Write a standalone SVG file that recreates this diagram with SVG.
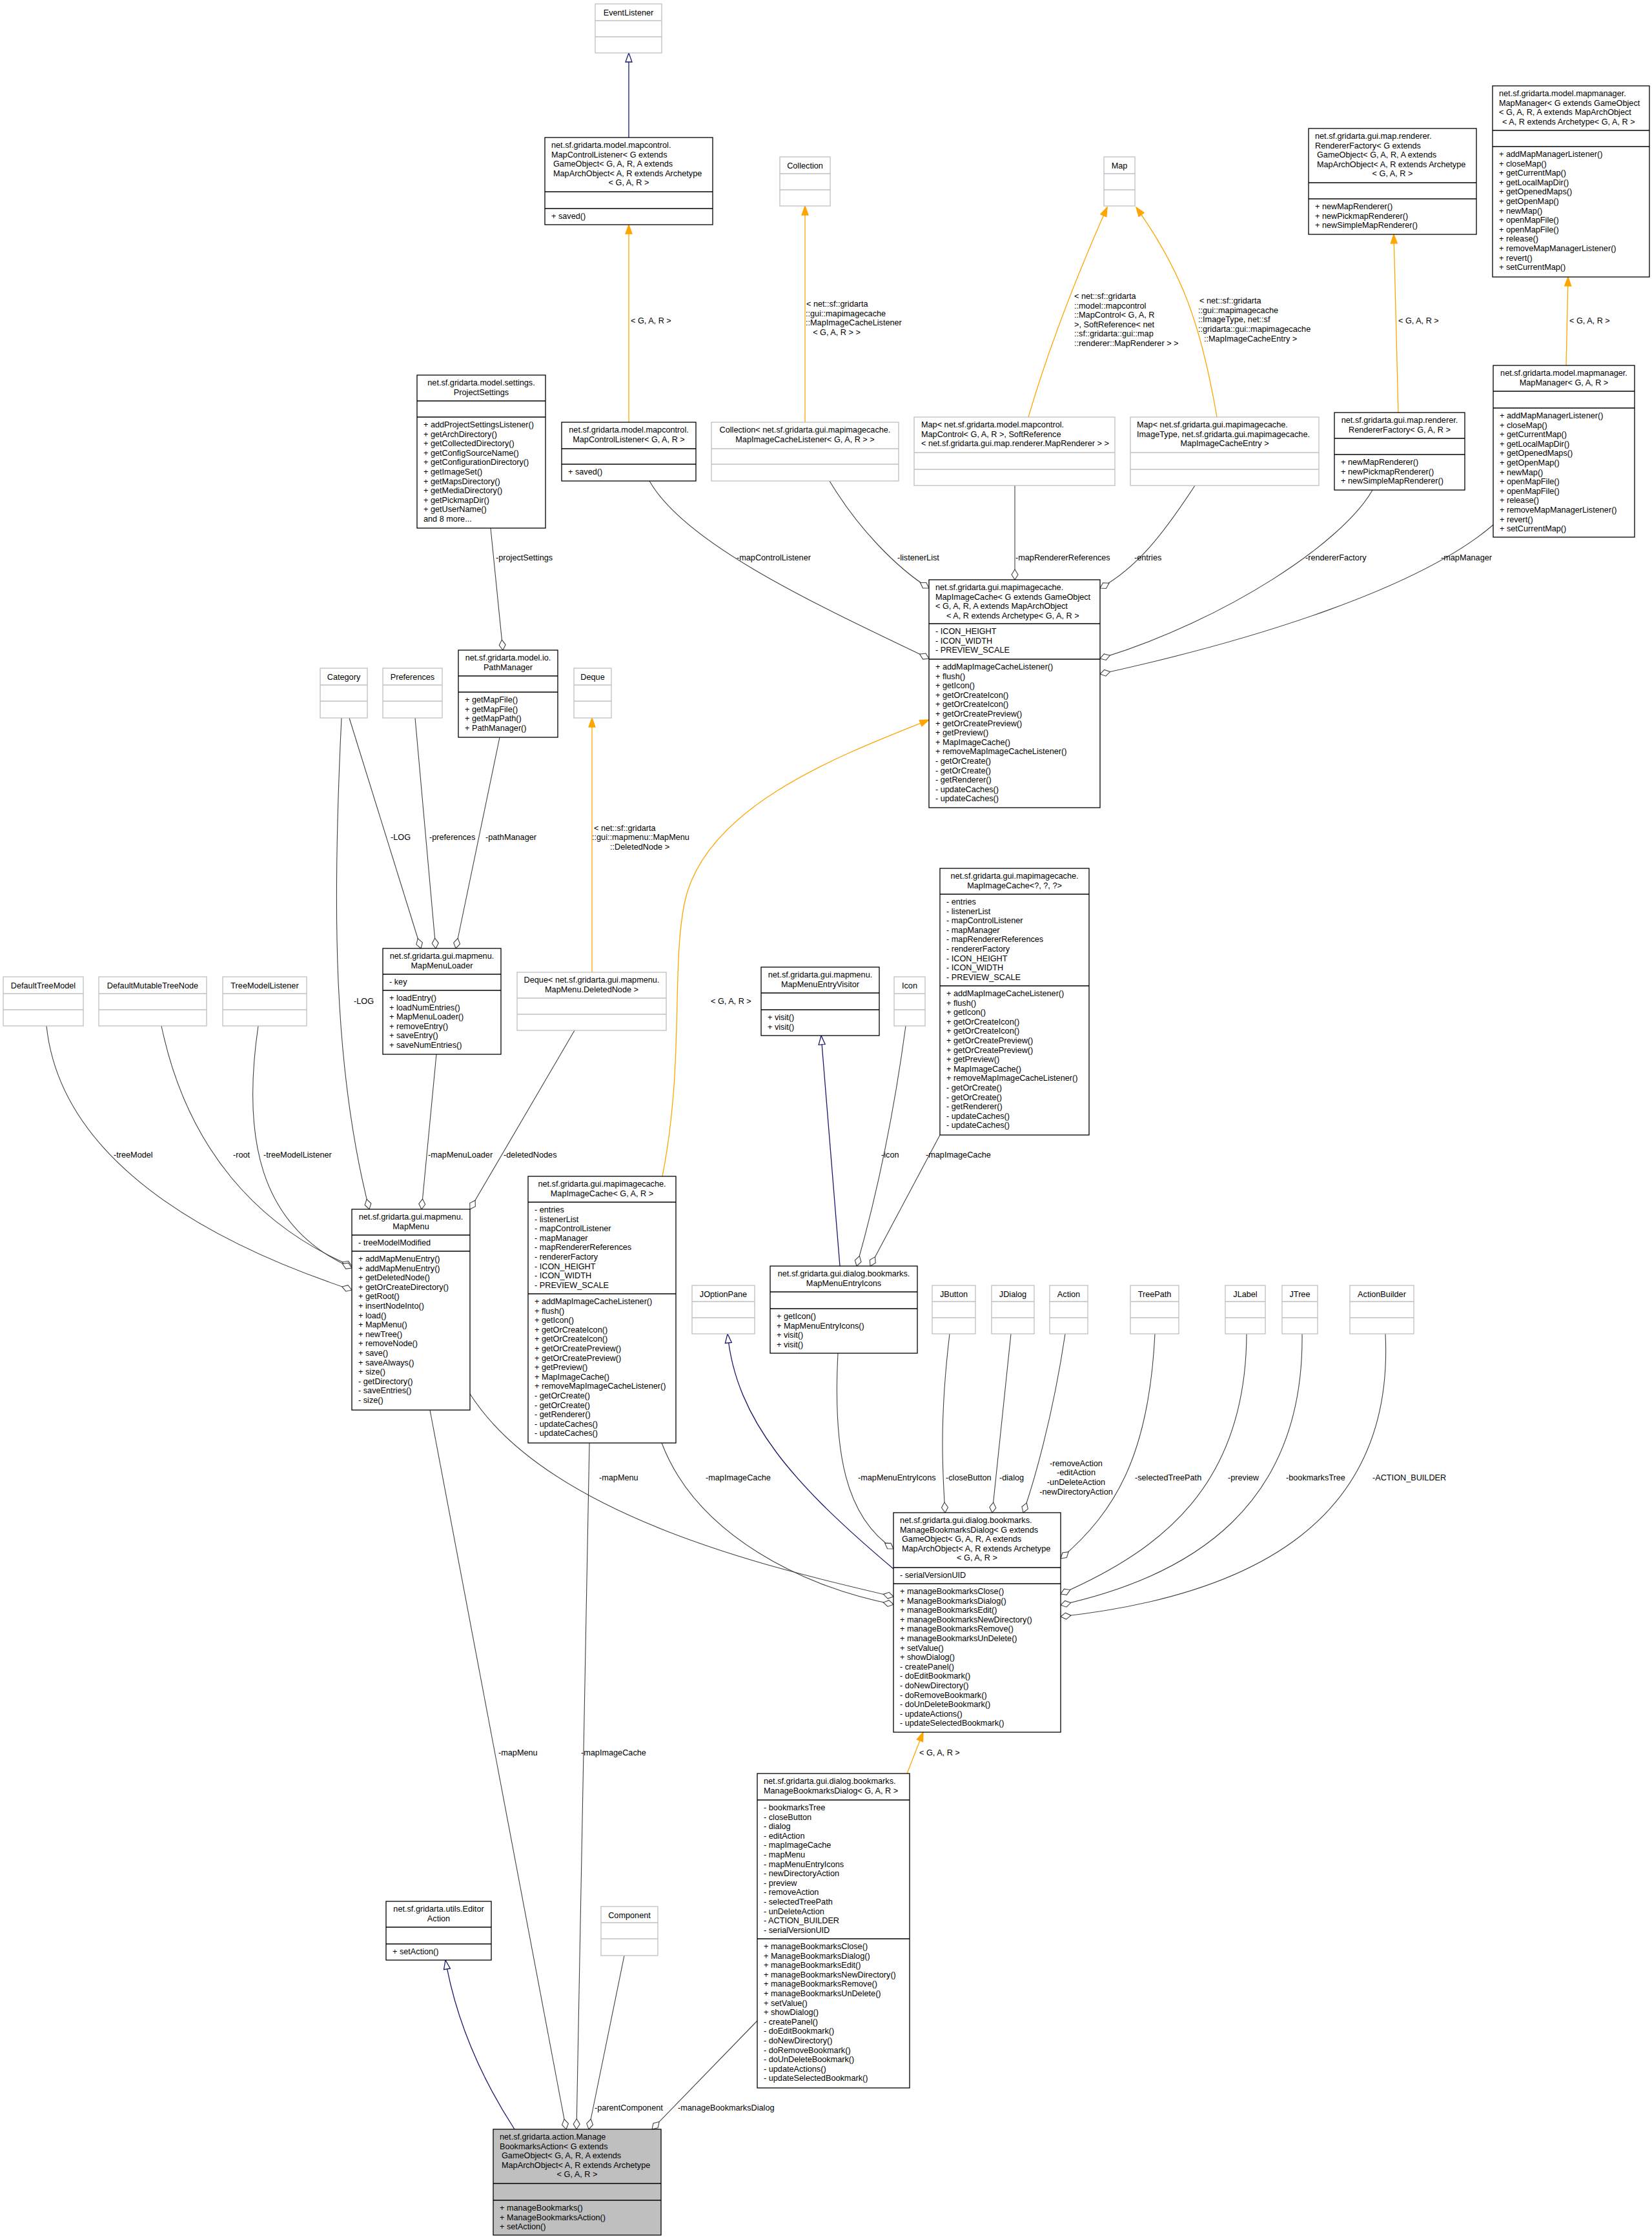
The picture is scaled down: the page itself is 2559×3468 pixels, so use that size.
<svg xmlns="http://www.w3.org/2000/svg" width="2559" height="3468" viewBox="0 0 2559 3468">
<style>
text{font-family:"Liberation Sans",Arial,sans-serif;font-size:12.7px;fill:#000}
.c{text-anchor:middle}
.b{fill:#fff;stroke:#000;stroke-width:1.3}
.g{fill:#fff;stroke:#bfbfbf;stroke-width:1.3}
.gf{fill:#bfbfbf;stroke:#000;stroke-width:1.3}
.s{stroke:#000;stroke-width:1.3}
.sg{stroke:#bfbfbf;stroke-width:1.3}
.e{fill:none;stroke:#404040;stroke-width:1.1}
.eb{fill:none;stroke:#191970;stroke-width:1.3}
.eo{fill:none;stroke:#ffa500;stroke-width:1.3}
</style>
<defs>
<marker id="dia" viewBox="-18 -7 19 14" refX="0" refY="0" markerWidth="19" markerHeight="14" orient="auto" markerUnits="userSpaceOnUse"><path d="M0,0 L-8,-5 L-16,0 L-8,5 Z" fill="#fff" stroke="#404040" stroke-width="1.1"/></marker>
<marker id="tri" viewBox="-16 -7 17 14" refX="0" refY="0" markerWidth="17" markerHeight="14" orient="auto" markerUnits="userSpaceOnUse"><path d="M0,0 L-14,-5 L-14,5 Z" fill="#fff" stroke="#191970" stroke-width="1.3"/></marker>
<marker id="ora" viewBox="-16 -7 17 14" refX="0" refY="0" markerWidth="17" markerHeight="14" orient="auto" markerUnits="userSpaceOnUse"><path d="M0,0 L-14,-5 L-14,5 Z" fill="#ffa500" stroke="#ffa500" stroke-width="1.3"/></marker>
</defs>

<g id="edges">
<path class="eb" d="M974,213 L974,82" marker-end="url(#tri)"/>
<path class="eo" d="M974,654 L974,348" marker-end="url(#ora)"/>
<text x="977" y="501">&lt; G, A, R &gt;</text>
<path class="eo" d="M1247,654 L1247,319" marker-end="url(#ora)"/>
<text x="1249" y="475">&lt; net::sf::gridarta</text><text x="1248" y="490">::gui::mapimagecache</text><text x="1248" y="504">::MapImageCacheListener</text><text x="1296" y="519" class="c">&lt; G, A, R &gt; &gt;</text>
<path class="eo" d="M1593,646 C1630,520 1680,400 1715,321" marker-end="url(#ora)"/>
<text x="1664" y="463">&lt; net::sf::gridarta</text><text x="1664" y="478">::model::mapcontrol</text><text x="1664" y="492">::MapControl&lt; G, A, R</text><text x="1664" y="507">&gt;, SoftReference&lt; net</text><text x="1664" y="521">::sf::gridarta::gui::map</text><text x="1664" y="536">::renderer::MapRenderer &gt; &gt;</text>
<path class="eo" d="M1885,646 C1860,500 1830,420 1760,321" marker-end="url(#ora)"/>
<text x="1858" y="470">&lt; net::sf::gridarta</text><text x="1856" y="485">::gui::mapimagecache</text><text x="1856" y="499">::ImageType, net::sf</text><text x="1856" y="514">::gridarta::gui::mapimagecache</text><text x="1865" y="529">::MapImageCacheEntry &gt;</text>
<path class="eo" d="M2166,639 L2159,363" marker-end="url(#ora)"/>
<text x="2166" y="501">&lt; G, A, R &gt;</text>
<path class="eo" d="M2426,566 L2429,429" marker-end="url(#ora)"/>
<text x="2431" y="501">&lt; G, A, R &gt;</text>

<path class="e" d="M760,818 L779,1007" marker-end="url(#dia)"/>
<text x="768" y="868">-projectSettings</text>
<path class="e" d="M1006,745 C1060,840 1250,930 1439,1020" marker-end="url(#dia)"/>
<text x="1141" y="868">-mapControlListener</text>
<path class="e" d="M1285,745 C1330,820 1390,880 1439,911" marker-end="url(#dia)"/>
<text x="1390" y="868">-listenerList</text>
<path class="e" d="M1572,752 L1572,898" marker-end="url(#dia)"/>
<text x="1573" y="868">-mapRendererReferences</text>
<path class="e" d="M1851,752 C1800,830 1760,880 1704,911" marker-end="url(#dia)"/>
<text x="1757" y="868">-entries</text>
<path class="e" d="M2126,759 C2080,840 1900,960 1704,1020" marker-end="url(#dia)"/>
<text x="2022" y="868">-rendererFactory</text>
<path class="e" d="M2313,813 C2200,910 1950,990 1704,1044" marker-end="url(#dia)"/>
<text x="2232" y="868">-mapManager</text>

<path class="eo" d="M917,1506 L917,1112" marker-end="url(#ora)"/>
<text x="920" y="1287">&lt; net::sf::gridarta</text><text x="917" y="1301">::gui::mapmenu::MapMenu</text><text x="945" y="1316">::DeletedNode &gt;</text>
<path class="e" d="M541,1112 L652,1469" marker-end="url(#dia)"/>
<text x="605" y="1301">-LOG</text>
<path class="e" d="M643,1112 L675,1469" marker-end="url(#dia)"/>
<text x="665" y="1301">-preferences</text>
<path class="e" d="M774,1142 L706,1469" marker-end="url(#dia)"/>
<text x="752" y="1301">-pathManager</text>
<path class="eo" d="M1026,1822 C1060,1650 1040,1500 1060,1400 C1090,1250 1300,1170 1439,1115" marker-end="url(#ora)"/>
<text x="1101" y="1555">&lt; G, A, R &gt;</text>
<path class="e" d="M529,1112 C515,1400 515,1650 572,1873" marker-end="url(#dia)"/>
<text x="548" y="1555">-LOG</text>
<path class="e" d="M676,1633 L653,1873" marker-end="url(#dia)"/>
<text x="663" y="1793">-mapMenuLoader</text>
<path class="e" d="M890,1596 L728,1873" marker-end="url(#dia)"/>
<text x="780" y="1793">-deletedNodes</text>
<path class="e" d="M72,1589 C90,1760 250,1900 545,1998" marker-end="url(#dia)"/>
<text x="176" y="1793">-treeModel</text>
<path class="e" d="M250,1589 C290,1780 400,1900 545,1961" marker-end="url(#dia)"/>
<text x="361" y="1793">-root</text>
<path class="e" d="M400,1589 C375,1760 400,1900 545,1964" marker-end="url(#dia)"/>
<text x="408" y="1793">-treeModelListener</text>
<path class="eb" d="M1301,1961 L1272,1604" marker-end="url(#tri)"/>
<path class="e" d="M1403,1589 C1380,1760 1350,1880 1327,1961" marker-end="url(#dia)"/>
<text x="1365" y="1793">-icon</text>
<path class="e" d="M1456,1758 L1348,1961" marker-end="url(#dia)"/>
<text x="1434" y="1793">-mapImageCache</text>
<path class="e" d="M728,2159 C850,2350 1200,2430 1384,2473" marker-end="url(#dia)"/>
<text x="928" y="2293">-mapMenu</text>
<path class="e" d="M1025,2235 C1080,2380 1250,2460 1384,2485" marker-end="url(#dia)"/>
<text x="1093" y="2293">-mapImageCache</text>
<path class="e" d="M1298,2096 C1290,2250 1310,2350 1384,2399" marker-end="url(#dia)"/>
<text x="1329" y="2293">-mapMenuEntryIcons</text>
<path class="eb" d="M1384,2430 C1230,2300 1140,2200 1127,2066" marker-end="url(#tri)"/>
<path class="e" d="M1471,2066 C1455,2200 1460,2280 1464,2343" marker-end="url(#dia)"/>
<text x="1465" y="2293">-closeButton</text>
<path class="e" d="M1566,2066 L1537,2343" marker-end="url(#dia)"/>
<text x="1548" y="2293">-dialog</text>
<path class="e" d="M1650,2066 C1630,2200 1600,2300 1585,2343" marker-end="url(#dia)"/>
<text x="1667" y="2271" class="c">-removeAction</text><text x="1667" y="2285" class="c">-editAction</text><text x="1667" y="2300" class="c">-unDeleteAction</text><text x="1667" y="2315" class="c">-newDirectoryAction</text>
<path class="e" d="M1789,2066 C1780,2250 1730,2340 1643,2414" marker-end="url(#dia)"/>
<text x="1758" y="2293">-selectedTreePath</text>
<path class="e" d="M1931,2066 C1930,2300 1800,2400 1643,2469" marker-end="url(#dia)"/>
<text x="1902" y="2293">-preview</text>
<path class="e" d="M2017,2066 C2020,2330 1850,2440 1643,2486" marker-end="url(#dia)"/>
<text x="1992" y="2293">-bookmarksTree</text>
<path class="e" d="M2146,2066 C2160,2350 1950,2470 1643,2504" marker-end="url(#dia)"/>
<text x="2126" y="2293">-ACTION_BUILDER</text>
<path class="eo" d="M1405,2747 L1430,2683" marker-end="url(#ora)"/>
<text x="1424" y="2719">&lt; G, A, R &gt;</text>
<path class="e" d="M666,2184 L877,3298" marker-end="url(#dia)"/>
<text x="772" y="2719">-mapMenu</text>
<path class="e" d="M913,2235 L893,3298" marker-end="url(#dia)"/>
<text x="900" y="2719">-mapImageCache</text>
<path class="e" d="M967,3029 L912,3298" marker-end="url(#dia)"/>
<text x="921" y="3269">-parentComponent</text>
<path class="e" d="M1173,3130 L1010,3298" marker-end="url(#dia)"/>
<text x="1050" y="3269">-manageBookmarksDialog</text>
<path class="eb" d="M797,3298 C740,3210 705,3120 690,3036" marker-end="url(#tri)"/>
</g>

<g id="EventListener"><rect class="g" x="922" y="6" width="103" height="76"/><line class="sg" x1="922" y1="32" x2="1025" y2="32"/><line class="sg" x1="922" y1="57" x2="1025" y2="57"/><text class="c" x="973.5" y="24">EventListener</text></g>

<g id="MapControlListenerG"><rect class="b" x="844" y="213" width="260" height="135"/><line class="s" x1="844" y1="297" x2="1104" y2="297"/><line class="s" x1="844" y1="323" x2="1104" y2="323"/>
<text x="854" y="229">net.sf.gridarta.model.mapcontrol.</text><text x="854" y="243.6">MapControlListener&lt; G extends</text><text x="857" y="258.2">GameObject&lt; G, A, R, A extends</text><text x="857" y="272.8">MapArchObject&lt; A, R extends Archetype</text><text class="c" x="974" y="287.4">&lt; G, A, R &gt;</text><text x="854" y="339">+ saved()</text></g>

<g id="Collection"><rect class="g" x="1208" y="243" width="78" height="76"/><line class="sg" x1="1208" y1="269" x2="1286" y2="269"/><line class="sg" x1="1208" y1="294" x2="1286" y2="294"/><text class="c" x="1247" y="261">Collection</text></g>
<g id="Map"><rect class="g" x="1710" y="243" width="48" height="76"/><line class="sg" x1="1710" y1="269" x2="1758" y2="269"/><line class="sg" x1="1710" y1="294" x2="1758" y2="294"/><text class="c" x="1734" y="261">Map</text></g>

<g id="RendererFactoryG"><rect class="b" x="2027" y="199" width="260" height="164"/><line class="s" x1="2027" y1="283" x2="2287" y2="283"/><line class="s" x1="2027" y1="308" x2="2287" y2="308"/>
<text x="2037" y="215">net.sf.gridarta.gui.map.renderer.</text><text x="2037" y="229.6">RendererFactory&lt; G extends</text><text x="2040" y="244.2">GameObject&lt; G, A, R, A extends</text><text x="2040" y="258.8">MapArchObject&lt; A, R extends Archetype</text><text class="c" x="2157" y="273.4">&lt; G, A, R &gt;</text>
<text x="2037" y="324">+ newMapRenderer()</text><text x="2037" y="338.6">+ newPickmapRenderer()</text><text x="2037" y="353.2">+ newSimpleMapRenderer()</text></g>

<g id="MapManagerG"><rect class="b" x="2312" y="133" width="243" height="296"/><line class="s" x1="2312" y1="202" x2="2555" y2="202"/><line class="s" x1="2312" y1="227" x2="2555" y2="227"/>
<text x="2322" y="149">net.sf.gridarta.model.mapmanager.</text><text x="2322" y="163.6">MapManager&lt; G extends GameObject</text><text x="2322" y="178.2">&lt; G, A, R, A extends MapArchObject</text><text x="2327" y="192.8">&lt; A, R extends Archetype&lt; G, A, R &gt;</text>
<text x="2322" y="243">+ addMapManagerListener()</text><text x="2322" y="257.6">+ closeMap()</text><text x="2322" y="272.2">+ getCurrentMap()</text><text x="2322" y="286.8">+ getLocalMapDir()</text><text x="2322" y="301.4">+ getOpenedMaps()</text><text x="2322" y="316">+ getOpenMap()</text><text x="2322" y="330.6">+ newMap()</text><text x="2322" y="345.2">+ openMapFile()</text><text x="2322" y="359.8">+ openMapFile()</text><text x="2322" y="374.4">+ release()</text><text x="2322" y="389">+ removeMapManagerListener()</text><text x="2322" y="403.6">+ revert()</text><text x="2322" y="418.2">+ setCurrentMap()</text></g>

<g id="ProjectSettings"><rect class="b" x="646" y="581" width="199" height="237"/><line class="s" x1="646" y1="621" x2="845" y2="621"/><line class="s" x1="646" y1="646" x2="845" y2="646"/>
<text class="c" x="745.5" y="597">net.sf.gridarta.model.settings.</text><text class="c" x="745.5" y="611.6">ProjectSettings</text>
<text x="656" y="662">+ addProjectSettingsListener()</text><text x="656" y="676.6">+ getArchDirectory()</text><text x="656" y="691.2">+ getCollectedDirectory()</text><text x="656" y="705.8">+ getConfigSourceName()</text><text x="656" y="720.4">+ getConfigurationDirectory()</text><text x="656" y="735">+ getImageSet()</text><text x="656" y="749.6">+ getMapsDirectory()</text><text x="656" y="764.2">+ getMediaDirectory()</text><text x="656" y="778.8">+ getPickmapDir()</text><text x="656" y="793.4">+ getUserName()</text><text x="656" y="808">and 8 more...</text></g>

<g id="MapControlListenerGAR"><rect class="b" x="870" y="654" width="208" height="91"/><line class="s" x1="870" y1="695" x2="1078" y2="695"/><line class="s" x1="870" y1="719" x2="1078" y2="719"/>
<text class="c" x="974" y="670">net.sf.gridarta.model.mapcontrol.</text><text class="c" x="974" y="684.6">MapControlListener&lt; G, A, R &gt;</text><text x="880" y="735">+ saved()</text></g>

<g id="CollectionListener"><rect class="g" x="1102" y="654" width="290" height="91"/><line class="sg" x1="1102" y1="695" x2="1392" y2="695"/><line class="sg" x1="1102" y1="719" x2="1392" y2="719"/>
<text class="c" x="1247" y="670">Collection&lt; net.sf.gridarta.gui.mapimagecache.</text><text class="c" x="1247" y="684.6">MapImageCacheListener&lt; G, A, R &gt; &gt;</text></g>

<g id="MapRendererRefs"><rect class="g" x="1416" y="646" width="311" height="106"/><line class="sg" x1="1416" y1="701" x2="1727" y2="701"/><line class="sg" x1="1416" y1="727" x2="1727" y2="727"/>
<text x="1427" y="662">Map&lt; net.sf.gridarta.model.mapcontrol.</text><text x="1427" y="676.6">MapControl&lt; G, A, R &gt;, SoftReference</text><text x="1427" y="691.2">&lt; net.sf.gridarta.gui.map.renderer.MapRenderer &gt; &gt;</text></g>

<g id="MapImageTypeEntry"><rect class="g" x="1751" y="646" width="292" height="106"/><line class="sg" x1="1751" y1="701" x2="2043" y2="701"/><line class="sg" x1="1751" y1="727" x2="2043" y2="727"/>
<text x="1761" y="662">Map&lt; net.sf.gridarta.gui.mapimagecache.</text><text x="1761" y="676.6">ImageType, net.sf.gridarta.gui.mapimagecache.</text><text class="c" x="1897" y="691.2">MapImageCacheEntry &gt;</text></g>

<g id="RendererFactoryGAR"><rect class="b" x="2067" y="639" width="202" height="120"/><line class="s" x1="2067" y1="679" x2="2269" y2="679"/><line class="s" x1="2067" y1="704" x2="2269" y2="704"/>
<text class="c" x="2168" y="655">net.sf.gridarta.gui.map.renderer.</text><text class="c" x="2168" y="669.6">RendererFactory&lt; G, A, R &gt;</text>
<text x="2077" y="720">+ newMapRenderer()</text><text x="2077" y="734.6">+ newPickmapRenderer()</text><text x="2077" y="749.2">+ newSimpleMapRenderer()</text></g>

<g id="MapManagerGAR"><rect class="b" x="2313" y="566" width="219" height="266"/><line class="s" x1="2313" y1="606" x2="2532" y2="606"/><line class="s" x1="2313" y1="632" x2="2532" y2="632"/>
<text class="c" x="2422.5" y="582">net.sf.gridarta.model.mapmanager.</text><text class="c" x="2422.5" y="596.6">MapManager&lt; G, A, R &gt;</text>
<text x="2323" y="648">+ addMapManagerListener()</text><text x="2323" y="662.6">+ closeMap()</text><text x="2323" y="677.2">+ getCurrentMap()</text><text x="2323" y="691.8">+ getLocalMapDir()</text><text x="2323" y="706.4">+ getOpenedMaps()</text><text x="2323" y="721">+ getOpenMap()</text><text x="2323" y="735.6">+ newMap()</text><text x="2323" y="750.2">+ openMapFile()</text><text x="2323" y="764.8">+ openMapFile()</text><text x="2323" y="779.4">+ release()</text><text x="2323" y="794">+ removeMapManagerListener()</text><text x="2323" y="808.6">+ revert()</text><text x="2323" y="823.2">+ setCurrentMap()</text></g>

<g id="MapImageCacheG"><rect class="b" x="1439" y="898" width="265" height="353"/><line class="s" x1="1439" y1="966" x2="1704" y2="966"/><line class="s" x1="1439" y1="1021" x2="1704" y2="1021"/>
<text x="1449" y="914">net.sf.gridarta.gui.mapimagecache.</text><text x="1449" y="928.6">MapImageCache&lt; G extends GameObject</text><text x="1449" y="943.2">&lt; G, A, R, A extends MapArchObject</text><text x="1466" y="957.8">&lt; A, R extends Archetype&lt; G, A, R &gt;</text>
<text x="1449" y="982">- ICON_HEIGHT</text><text x="1449" y="996.6">- ICON_WIDTH</text><text x="1449" y="1011.2">- PREVIEW_SCALE</text>
<text x="1449" y="1037">+ addMapImageCacheListener()</text><text x="1449" y="1051.6">+ flush()</text><text x="1449" y="1066.2">+ getIcon()</text><text x="1449" y="1080.8">+ getOrCreateIcon()</text><text x="1449" y="1095.4">+ getOrCreateIcon()</text><text x="1449" y="1110">+ getOrCreatePreview()</text><text x="1449" y="1124.6">+ getOrCreatePreview()</text><text x="1449" y="1139.2">+ getPreview()</text><text x="1449" y="1153.8">+ MapImageCache()</text><text x="1449" y="1168.4">+ removeMapImageCacheListener()</text><text x="1449" y="1183">- getOrCreate()</text><text x="1449" y="1197.6">- getOrCreate()</text><text x="1449" y="1212.2">- getRenderer()</text><text x="1449" y="1226.8">- updateCaches()</text><text x="1449" y="1241.4">- updateCaches()</text></g>

<g id="PathManager"><rect class="b" x="710" y="1007" width="154" height="135"/><line class="s" x1="710" y1="1047" x2="864" y2="1047"/><line class="s" x1="710" y1="1072" x2="864" y2="1072"/>
<text class="c" x="787" y="1023">net.sf.gridarta.model.io.</text><text class="c" x="787" y="1037.6">PathManager</text>
<text x="720" y="1088">+ getMapFile()</text><text x="720" y="1102.6">+ getMapFile()</text><text x="720" y="1117.2">+ getMapPath()</text><text x="720" y="1131.8">+ PathManager()</text></g>

<g id="Category"><rect class="g" x="496" y="1035" width="73" height="77"/><line class="sg" x1="496" y1="1061" x2="569" y2="1061"/><line class="sg" x1="496" y1="1086" x2="569" y2="1086"/><text class="c" x="532.5" y="1053">Category</text></g>
<g id="Preferences"><rect class="g" x="593" y="1035" width="92" height="77"/><line class="sg" x1="593" y1="1061" x2="685" y2="1061"/><line class="sg" x1="593" y1="1086" x2="685" y2="1086"/><text class="c" x="639" y="1053">Preferences</text></g>
<g id="Deque"><rect class="g" x="889" y="1035" width="58" height="77"/><line class="sg" x1="889" y1="1061" x2="947" y2="1061"/><line class="sg" x1="889" y1="1086" x2="947" y2="1086"/><text class="c" x="918" y="1053">Deque</text></g>

<g id="MapImageCacheQ"><rect class="b" x="1456" y="1345" width="231" height="413"/><line class="s" x1="1456" y1="1385" x2="1687" y2="1385"/><line class="s" x1="1456" y1="1527" x2="1687" y2="1527"/>
<text class="c" x="1571.5" y="1361">net.sf.gridarta.gui.mapimagecache.</text><text class="c" x="1571.5" y="1375.6">MapImageCache&lt;?, ?, ?&gt;</text>
<text x="1466" y="1401">- entries</text><text x="1466" y="1415.6">- listenerList</text><text x="1466" y="1430.2">- mapControlListener</text><text x="1466" y="1444.8">- mapManager</text><text x="1466" y="1459.4">- mapRendererReferences</text><text x="1466" y="1474">- rendererFactory</text><text x="1466" y="1488.6">- ICON_HEIGHT</text><text x="1466" y="1503.2">- ICON_WIDTH</text><text x="1466" y="1517.8">- PREVIEW_SCALE</text>
<text x="1466" y="1543">+ addMapImageCacheListener()</text><text x="1466" y="1557.6">+ flush()</text><text x="1466" y="1572.2">+ getIcon()</text><text x="1466" y="1586.8">+ getOrCreateIcon()</text><text x="1466" y="1601.4">+ getOrCreateIcon()</text><text x="1466" y="1616">+ getOrCreatePreview()</text><text x="1466" y="1630.6">+ getOrCreatePreview()</text><text x="1466" y="1645.2">+ getPreview()</text><text x="1466" y="1659.8">+ MapImageCache()</text><text x="1466" y="1674.4">+ removeMapImageCacheListener()</text><text x="1466" y="1689">- getOrCreate()</text><text x="1466" y="1703.6">- getOrCreate()</text><text x="1466" y="1718.2">- getRenderer()</text><text x="1466" y="1732.8">- updateCaches()</text><text x="1466" y="1747.4">- updateCaches()</text></g>

<g id="MapMenuLoader"><rect class="b" x="593" y="1469" width="183" height="164"/><line class="s" x1="593" y1="1509" x2="776" y2="1509"/><line class="s" x1="593" y1="1534" x2="776" y2="1534"/>
<text class="c" x="684.5" y="1485">net.sf.gridarta.gui.mapmenu.</text><text class="c" x="684.5" y="1499.6">MapMenuLoader</text><text x="603" y="1525">- key</text>
<text x="603" y="1550">+ loadEntry()</text><text x="603" y="1564.6">+ loadNumEntries()</text><text x="603" y="1579.2">+ MapMenuLoader()</text><text x="603" y="1593.8">+ removeEntry()</text><text x="603" y="1608.4">+ saveEntry()</text><text x="603" y="1623">+ saveNumEntries()</text></g>

<g id="DefaultTreeModel"><rect class="g" x="5" y="1513" width="124" height="76"/><line class="sg" x1="5" y1="1539" x2="129" y2="1539"/><line class="sg" x1="5" y1="1564" x2="129" y2="1564"/><text class="c" x="67" y="1531">DefaultTreeModel</text></g>
<g id="DefaultMutableTreeNode"><rect class="g" x="153" y="1513" width="167" height="76"/><line class="sg" x1="153" y1="1539" x2="320" y2="1539"/><line class="sg" x1="153" y1="1564" x2="320" y2="1564"/><text class="c" x="236.5" y="1531">DefaultMutableTreeNode</text></g>
<g id="TreeModelListener"><rect class="g" x="345" y="1513" width="130" height="76"/><line class="sg" x1="345" y1="1539" x2="475" y2="1539"/><line class="sg" x1="345" y1="1564" x2="475" y2="1564"/><text class="c" x="410" y="1531">TreeModelListener</text></g>

<g id="DequeDeletedNode"><rect class="g" x="801" y="1506" width="231" height="90"/><line class="sg" x1="801" y1="1546" x2="1032" y2="1546"/><line class="sg" x1="801" y1="1571" x2="1032" y2="1571"/>
<text class="c" x="916.5" y="1522">Deque&lt; net.sf.gridarta.gui.mapmenu.</text><text class="c" x="916.5" y="1536.6">MapMenu.DeletedNode &gt;</text></g>

<g id="MapMenuEntryVisitor"><rect class="b" x="1179" y="1498" width="183" height="106"/><line class="s" x1="1179" y1="1538" x2="1362" y2="1538"/><line class="s" x1="1179" y1="1564" x2="1362" y2="1564"/>
<text class="c" x="1270.5" y="1514">net.sf.gridarta.gui.mapmenu.</text><text class="c" x="1270.5" y="1528.6">MapMenuEntryVisitor</text><text x="1189" y="1580">+ visit()</text><text x="1189" y="1594.6">+ visit()</text></g>

<g id="Icon"><rect class="g" x="1385" y="1513" width="48" height="76"/><line class="sg" x1="1385" y1="1539" x2="1433" y2="1539"/><line class="sg" x1="1385" y1="1564" x2="1433" y2="1564"/><text class="c" x="1409" y="1531">Icon</text></g>

<g id="MapImageCacheGAR"><rect class="b" x="818" y="1822" width="229" height="413"/><line class="s" x1="818" y1="1862" x2="1047" y2="1862"/><line class="s" x1="818" y1="2004" x2="1047" y2="2004"/>
<text class="c" x="932.5" y="1838">net.sf.gridarta.gui.mapimagecache.</text><text class="c" x="932.5" y="1852.6">MapImageCache&lt; G, A, R &gt;</text>
<text x="828" y="1878">- entries</text><text x="828" y="1892.6">- listenerList</text><text x="828" y="1907.2">- mapControlListener</text><text x="828" y="1921.8">- mapManager</text><text x="828" y="1936.4">- mapRendererReferences</text><text x="828" y="1951">- rendererFactory</text><text x="828" y="1965.6">- ICON_HEIGHT</text><text x="828" y="1980.2">- ICON_WIDTH</text><text x="828" y="1994.8">- PREVIEW_SCALE</text>
<text x="828" y="2020">+ addMapImageCacheListener()</text><text x="828" y="2034.6">+ flush()</text><text x="828" y="2049.2">+ getIcon()</text><text x="828" y="2063.8">+ getOrCreateIcon()</text><text x="828" y="2078.4">+ getOrCreateIcon()</text><text x="828" y="2093">+ getOrCreatePreview()</text><text x="828" y="2107.6">+ getOrCreatePreview()</text><text x="828" y="2122.2">+ getPreview()</text><text x="828" y="2136.8">+ MapImageCache()</text><text x="828" y="2151.4">+ removeMapImageCacheListener()</text><text x="828" y="2166">- getOrCreate()</text><text x="828" y="2180.6">- getOrCreate()</text><text x="828" y="2195.2">- getRenderer()</text><text x="828" y="2209.8">- updateCaches()</text><text x="828" y="2224.4">- updateCaches()</text></g>

<g id="MapMenu"><rect class="b" x="545" y="1873" width="183" height="311"/><line class="s" x1="545" y1="1913" x2="728" y2="1913"/><line class="s" x1="545" y1="1938" x2="728" y2="1938"/>
<text class="c" x="636.5" y="1889">net.sf.gridarta.gui.mapmenu.</text><text class="c" x="636.5" y="1903.6">MapMenu</text><text x="555" y="1929">- treeModelModified</text>
<text x="555" y="1954">+ addMapMenuEntry()</text><text x="555" y="1968.6">+ addMapMenuEntry()</text><text x="555" y="1983.2">+ getDeletedNode()</text><text x="555" y="1997.8">+ getOrCreateDirectory()</text><text x="555" y="2012.4">+ getRoot()</text><text x="555" y="2027">+ insertNodeInto()</text><text x="555" y="2041.6">+ load()</text><text x="555" y="2056.2">+ MapMenu()</text><text x="555" y="2070.8">+ newTree()</text><text x="555" y="2085.4">+ removeNode()</text><text x="555" y="2100">+ save()</text><text x="555" y="2114.6">+ saveAlways()</text><text x="555" y="2129.2">+ size()</text><text x="555" y="2143.8">- getDirectory()</text><text x="555" y="2158.4">- saveEntries()</text><text x="555" y="2173">- size()</text></g>

<g id="JOptionPane"><rect class="g" x="1072" y="1991" width="97" height="75"/><line class="sg" x1="1072" y1="2016" x2="1169" y2="2016"/><line class="sg" x1="1072" y1="2041" x2="1169" y2="2041"/><text class="c" x="1120.5" y="2009">JOptionPane</text></g>

<g id="MapMenuEntryIcons"><rect class="b" x="1193" y="1961" width="228" height="135"/><line class="s" x1="1193" y1="2001" x2="1421" y2="2001"/><line class="s" x1="1193" y1="2027" x2="1421" y2="2027"/>
<text class="c" x="1307" y="1977">net.sf.gridarta.gui.dialog.bookmarks.</text><text class="c" x="1307" y="1991.6">MapMenuEntryIcons</text>
<text x="1203" y="2043">+ getIcon()</text><text x="1203" y="2057.6">+ MapMenuEntryIcons()</text><text x="1203" y="2072.2">+ visit()</text><text x="1203" y="2086.8">+ visit()</text></g>

<g id="JButton"><rect class="g" x="1444" y="1991" width="67" height="75"/><line class="sg" x1="1444" y1="2016" x2="1511" y2="2016"/><line class="sg" x1="1444" y1="2041" x2="1511" y2="2041"/><text class="c" x="1477.5" y="2009">JButton</text></g>
<g id="JDialog"><rect class="g" x="1536" y="1991" width="66" height="75"/><line class="sg" x1="1536" y1="2016" x2="1602" y2="2016"/><line class="sg" x1="1536" y1="2041" x2="1602" y2="2041"/><text class="c" x="1569" y="2009">JDialog</text></g>
<g id="Action"><rect class="g" x="1626" y="1991" width="59" height="75"/><line class="sg" x1="1626" y1="2016" x2="1685" y2="2016"/><line class="sg" x1="1626" y1="2041" x2="1685" y2="2041"/><text class="c" x="1655.5" y="2009">Action</text></g>
<g id="TreePath"><rect class="g" x="1751" y="1991" width="75" height="75"/><line class="sg" x1="1751" y1="2016" x2="1826" y2="2016"/><line class="sg" x1="1751" y1="2041" x2="1826" y2="2041"/><text class="c" x="1788.5" y="2009">TreePath</text></g>
<g id="JLabel"><rect class="g" x="1898" y="1991" width="62" height="75"/><line class="sg" x1="1898" y1="2016" x2="1960" y2="2016"/><line class="sg" x1="1898" y1="2041" x2="1960" y2="2041"/><text class="c" x="1929" y="2009">JLabel</text></g>
<g id="JTree"><rect class="g" x="1986" y="1991" width="55" height="75"/><line class="sg" x1="1986" y1="2016" x2="2041" y2="2016"/><line class="sg" x1="1986" y1="2041" x2="2041" y2="2041"/><text class="c" x="2013.5" y="2009">JTree</text></g>
<g id="ActionBuilder"><rect class="g" x="2091" y="1991" width="99" height="75"/><line class="sg" x1="2091" y1="2016" x2="2190" y2="2016"/><line class="sg" x1="2091" y1="2041" x2="2190" y2="2041"/><text class="c" x="2140.5" y="2009">ActionBuilder</text></g>

<g id="ManageBookmarksDialogG"><rect class="b" x="1384" y="2343" width="259" height="340"/><line class="s" x1="1384" y1="2428" x2="1643" y2="2428"/><line class="s" x1="1384" y1="2453" x2="1643" y2="2453"/>
<text x="1394" y="2359">net.sf.gridarta.gui.dialog.bookmarks.</text><text x="1394" y="2373.6">ManageBookmarksDialog&lt; G extends</text><text x="1397" y="2388.2">GameObject&lt; G, A, R, A extends</text><text x="1397" y="2402.8">MapArchObject&lt; A, R extends Archetype</text><text class="c" x="1513.5" y="2417.4">&lt; G, A, R &gt;</text>
<text x="1394" y="2444">- serialVersionUID</text>
<text x="1394" y="2469">+ manageBookmarksClose()</text><text x="1394" y="2483.6">+ ManageBookmarksDialog()</text><text x="1394" y="2498.2">+ manageBookmarksEdit()</text><text x="1394" y="2512.8">+ manageBookmarksNewDirectory()</text><text x="1394" y="2527.4">+ manageBookmarksRemove()</text><text x="1394" y="2542">+ manageBookmarksUnDelete()</text><text x="1394" y="2556.6">+ setValue()</text><text x="1394" y="2571.2">+ showDialog()</text><text x="1394" y="2585.8">- createPanel()</text><text x="1394" y="2600.4">- doEditBookmark()</text><text x="1394" y="2615">- doNewDirectory()</text><text x="1394" y="2629.6">- doRemoveBookmark()</text><text x="1394" y="2644.2">- doUnDeleteBookmark()</text><text x="1394" y="2658.8">- updateActions()</text><text x="1394" y="2673.4">- updateSelectedBookmark()</text></g>

<g id="ManageBookmarksDialogGAR"><rect class="b" x="1173" y="2747" width="236" height="487"/><line class="s" x1="1173" y1="2788" x2="1409" y2="2788"/><line class="s" x1="1173" y1="3003" x2="1409" y2="3003"/>
<text x="1183" y="2763">net.sf.gridarta.gui.dialog.bookmarks.</text><text x="1183" y="2777.6">ManageBookmarksDialog&lt; G, A, R &gt;</text>
<text x="1183" y="2804">- bookmarksTree</text><text x="1183" y="2818.6">- closeButton</text><text x="1183" y="2833.2">- dialog</text><text x="1183" y="2847.8">- editAction</text><text x="1183" y="2862.4">- mapImageCache</text><text x="1183" y="2877">- mapMenu</text><text x="1183" y="2891.6">- mapMenuEntryIcons</text><text x="1183" y="2906.2">- newDirectoryAction</text><text x="1183" y="2920.8">- preview</text><text x="1183" y="2935.4">- removeAction</text><text x="1183" y="2950">- selectedTreePath</text><text x="1183" y="2964.6">- unDeleteAction</text><text x="1183" y="2979.2">- ACTION_BUILDER</text><text x="1183" y="2993.8">- serialVersionUID</text>
<text x="1183" y="3019">+ manageBookmarksClose()</text><text x="1183" y="3033.6">+ ManageBookmarksDialog()</text><text x="1183" y="3048.2">+ manageBookmarksEdit()</text><text x="1183" y="3062.8">+ manageBookmarksNewDirectory()</text><text x="1183" y="3077.4">+ manageBookmarksRemove()</text><text x="1183" y="3092">+ manageBookmarksUnDelete()</text><text x="1183" y="3106.6">+ setValue()</text><text x="1183" y="3121.2">+ showDialog()</text><text x="1183" y="3135.8">- createPanel()</text><text x="1183" y="3150.4">- doEditBookmark()</text><text x="1183" y="3165">- doNewDirectory()</text><text x="1183" y="3179.6">- doRemoveBookmark()</text><text x="1183" y="3194.2">- doUnDeleteBookmark()</text><text x="1183" y="3208.8">- updateActions()</text><text x="1183" y="3223.4">- updateSelectedBookmark()</text></g>

<g id="EditorAction"><rect class="b" x="598" y="2945" width="163" height="91"/><line class="s" x1="598" y1="2985" x2="761" y2="2985"/><line class="s" x1="598" y1="3011" x2="761" y2="3011"/>
<text class="c" x="679.5" y="2961">net.sf.gridarta.utils.Editor</text><text class="c" x="679.5" y="2975.6">Action</text><text x="608" y="3027">+ setAction()</text></g>

<g id="Component"><rect class="g" x="931" y="2953" width="88" height="76"/><line class="sg" x1="931" y1="2978" x2="1019" y2="2978"/><line class="sg" x1="931" y1="3003" x2="1019" y2="3003"/><text class="c" x="975" y="2971">Component</text></g>

<g id="ManageBookmarksAction"><rect class="gf" x="764" y="3298" width="260" height="164"/><line class="s" x1="764" y1="3382" x2="1024" y2="3382"/><line class="s" x1="764" y1="3408" x2="1024" y2="3408"/>
<text x="774" y="3314">net.sf.gridarta.action.Manage</text><text x="774" y="3328.6">BookmarksAction&lt; G extends</text><text x="777" y="3343.2">GameObject&lt; G, A, R, A extends</text><text x="777" y="3357.8">MapArchObject&lt; A, R extends Archetype</text><text class="c" x="894" y="3372.4">&lt; G, A, R &gt;</text>
<text x="774" y="3424">+ manageBookmarks()</text><text x="774" y="3438.6">+ ManageBookmarksAction()</text><text x="774" y="3453.2">+ setAction()</text></g>
</svg>
